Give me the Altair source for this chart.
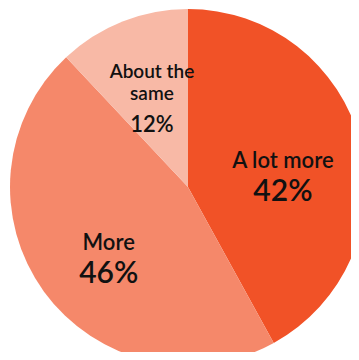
import altair as alt
import pandas as pd

categories = ["A lot more", "More", "About the same"]
values = [42, 46, 12]
label_top = ["", "", "About the"]
label_main = ["A lot more", "More", "same"]
pct_text = ["42%", "46%", "12%"]
colors = ["#F15227", "#F5886A", "#F8B9A6"]

df = pd.DataFrame({
    "category": categories,
    "value": values,
    "top": label_top,
    "label": label_main,
    "pct": pct_text,
    "order": list(range(len(categories))),
})

CX, CY, R, RL = 180, 179, 178, 98
small = alt.datum.category == "About the same"

base = alt.Chart(df).encode(
    theta=alt.Theta("value:Q", stack=True),
    order=alt.Order("order:Q"),
    x=alt.value(CX),
    y=alt.value(CY),
)

pie = base.mark_arc(radius=R).encode(
    color=alt.Color("category:N", scale=alt.Scale(domain=categories, range=colors), legend=None)
)

txt = dict(radius=RL, baseline="middle", font="Lato", color="#111111", fontWeight=600)

tops = base.mark_text(dy=-24, fontSize=19, **txt).encode(text="top:N")

labels = base.mark_text(dy=-2, **txt).encode(
    text="label:N",
    size=alt.condition(small, alt.value(19), alt.value(22)),
)

pcts = base.mark_text(dy=29, **txt).encode(
    text="pct:N",
    size=alt.condition(small, alt.value(22), alt.value(30)),
)

chart = alt.layer(pie, tops, labels, pcts).properties(
    width=343, height=344, padding=0, autosize=alt.AutoSizeParams(type="none")
).configure_view(stroke=None)

chart.save("out.html", embed_options={"renderer": "svg", "actions": False})
